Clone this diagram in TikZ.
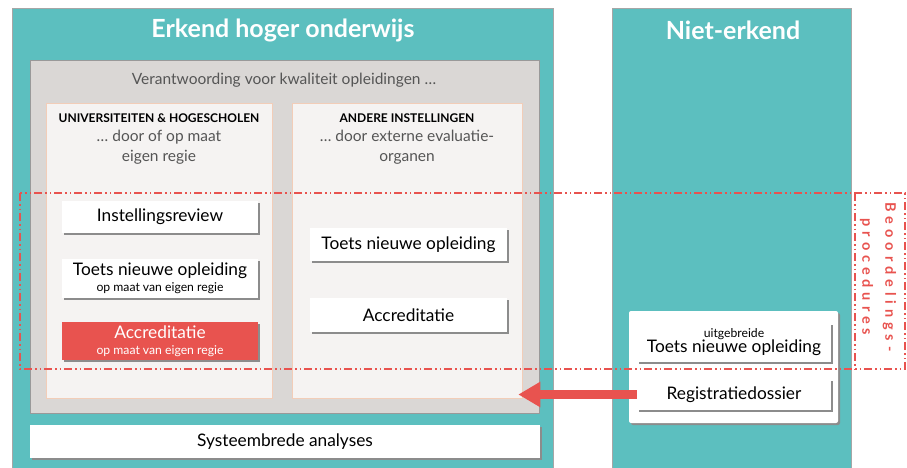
\documentclass[tikz,border=0pt]{standalone}
\usepackage{fontspec}
\setmainfont{Lato}
\usepackage{tikz}
\usetikzlibrary{arrows.meta, shadows, positioning}

\definecolor{teal1}{HTML}{5CBFBF}
\definecolor{rood}{HTML}{E8534F}
\definecolor{paneel}{HTML}{DAD7D5}
\definecolor{licht}{HTML}{F5F3F2}
\definecolor{perzik}{HTML}{F2CDB8}
\definecolor{tekstgrijs}{HTML}{555555}

\tikzset{
  kolom/.style={fill=teal1, draw=gray!70, line width=0.5pt},
  titel/.style={text=white, font=\fontsize{25}{27}\selectfont\bfseries},
  vak/.style={fill=white, align=center, minimum width=196, minimum height=32, inner sep=1pt,
    font=\fontsize{17.3}{19}\selectfont,
    drop shadow={shadow xshift=2pt, shadow yshift=-2pt, fill=black!45, opacity=1}},
  kop/.style={font=\fontsize{12}{14}\selectfont\bfseries},
  grijs/.style={text=tekstgrijs, align=center, font=\fontsize{15.5}{20}\selectfont},
  binnen/.style={fill=licht, draw=perzik, line width=0.6pt},
  procedure/.style={draw=rood, line width=1.4pt, dash pattern=on 8pt off 3pt on 1.5pt off 3pt on 1.5pt off 3pt},
  pijl/.style={draw=rood, line width=9pt, -{Triangle[length=22pt, width=24pt]}}
}
\newcommand{\kleintekst}{\fontsize{12.2}{13}\selectfont}

\begin{document}
\begin{tikzpicture}[x=1pt, y=-1pt]
\useasboundingbox (0,0) rectangle (907,467);

% kolommen
\node[kolom, minimum width=541, minimum height=472] (erkend) at (282.5,244) {};
\node[kolom, minimum width=239, minimum height=472] (niet) at (731.5,244) {};
\node[titel] (t1) at (283,30) {Erkend hoger onderwijs};
\node[titel] (t2) at (733,30) {Niet-erkend};

% verantwoording
\node[fill=paneel, draw=gray!80, line width=0.5pt, minimum width=509, minimum height=353] (paneel) at (284.5,236.5) {};
\node[grijs] (verant) at (284,80) {Verantwoording voor kwaliteit opleidingen \dots};

\node[binnen, minimum width=226, minimum height=295] (univ) at (159,250.5) {};
\node[binnen, minimum width=230, minimum height=295] (andere) at (407,250.5) {};

\node[kop] (univkop) at (159,118) {UNIVERSITEITEN \& HOGESCHOLEN};
\node[grijs] (univsub) at (159,147) {\dots\ door of op maat\\eigen regie};
\node[kop] (anderekop) at (407,118) {ANDERE INSTELLINGEN};
\node[grijs] (anderesub) at (407,147) {\dots\ door externe evaluatie-\\organen};

% vakken links
\node[vak] (review) at (160,216.5) {Instellingsreview};
\node[vak, minimum height=39] (toetsU) at (160,278.5) {Toets nieuwe opleiding\\[-3pt]{\kleintekst op maat van eigen regie}};
\node[vak, fill=rood, text=white, minimum height=38] (accU) at (160,341) {Accreditatie\\[-3pt]{\kleintekst op maat van eigen regie}};

% vakken rechts
\node[vak, minimum width=197, minimum height=33] (toetsA) at (408.5,244.5) {Toets nieuwe opleiding};
\node[vak, minimum width=197, minimum height=34] (accA) at (408.5,315) {Accreditatie};

\node[vak, minimum width=510, minimum height=33] (systeem) at (285,441.5) {Systeembrede analyses};

% niet-erkend
\node[vak, rounded corners=2pt, minimum width=209, minimum height=112] (wrap) at (733.5,367) {};
\node[vak, minimum width=194, minimum height=39] (toetsN) at (734,342.5) {{\kleintekst uitgebreide}\\[-4pt]Toets nieuwe opleiding};
\node[vak, minimum width=194, minimum height=31] (reg) at (734,394.5) {Registratiedossier};

\draw[pijl] (reg.west) -- ([xshift=-4pt]reg.west -| andere.east);

% beoordelingsprocedures
\draw[procedure] (20,193) rectangle (905,369);
\draw[procedure] (855,193) -- (855,369);
\node[rotate=-90, text=rood, align=center, font=\fontsize{14.5}{23}\selectfont\bfseries\addfontfeatures{LetterSpace=34}] (beoord) at (878,277) {Beoordelings-\\procedures};
\end{tikzpicture}
\end{document}
